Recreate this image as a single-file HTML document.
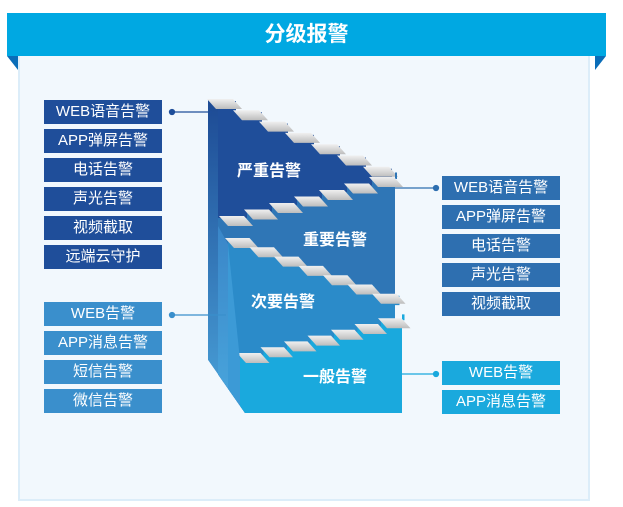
<!DOCTYPE html>
<html><head><meta charset="utf-8"><style>
html,body{margin:0;padding:0;background:#fff;}
body{width:623px;height:507px;position:relative;overflow:hidden;font-family:"Liberation Sans","Noto Sans CJK SC",sans-serif;}
.hdr{position:absolute;left:7px;top:13px;width:599px;height:43px;background:#00a8e2;color:#fff;font-size:21px;font-weight:bold;text-align:center;line-height:43px;}
.panel{position:absolute;left:18px;top:56px;width:568px;height:443px;background:#f2f8fd;border:2px solid #dcedf9;border-top:none;}
.b{position:absolute;width:118px;height:24px;color:#fff;font-size:15px;text-align:center;line-height:24px;}
.d{background:#1f4e9a}.m{background:#3a8fcc}.r{background:#2e6fb0}.g{background:#1aa9dd}
svg{position:absolute;left:0;top:0;}
</style></head><body>
<div class="panel"></div>
<div class="hdr">分级报警</div>
<svg width="623" height="507" id="s">
<polygon points="7,56 18,56 18,70" fill="#0a6db8"/>
<polygon points="606,56 595,56 595,70" fill="#0a6db8"/>
<defs>
<clipPath id="cp"><polygon points="200,90 420,90 420,413 245,413 208,360 200,360"/></clipPath>
<linearGradient id="side" x1="0" y1="0" x2="0" y2="1"><stop offset="0" stop-color="#1d4a94"/><stop offset="1" stop-color="#4aa3da"/></linearGradient>
<linearGradient id="side2" x1="0" y1="0" x2="0" y2="1"><stop offset="0" stop-color="#3a86c8"/><stop offset="1" stop-color="#4aa8de"/></linearGradient>
<linearGradient id="tr" x1="0" y1="0" x2="0" y2="1"><stop offset="0" stop-color="#f0f0f0"/><stop offset="1" stop-color="#bdbdbd"/></linearGradient>
</defs>
<g clip-path="url(#cp)">
<polygon points="208,100 218,106 245,413 208,360" fill="url(#side)"/>
<g id="st"></g>
<polygon points="218,226 228,244 228,420 218,420" fill="url(#side2)"/>
<polygon points="228,244 240,360 240,420 228,420" fill="#3c9ad6"/>
</g>
<g stroke="#1f4e9a" stroke-width="1.3" fill="#1f4e9a"><line x1="172" y1="112" x2="212" y2="112"/><circle cx="172" cy="112" r="2.5"/></g>
<g stroke="#3a8fcc" stroke-width="1.3" fill="#3a8fcc"><line x1="172" y1="315" x2="226" y2="315"/><circle cx="172" cy="315" r="2.5"/></g>
<g stroke="#2e6fb0" stroke-width="1.3" fill="#2e6fb0"><line x1="395" y1="188" x2="436" y2="188"/><circle cx="436" cy="188" r="2.5"/></g>
<g stroke="#1aa9dd" stroke-width="1.3" fill="#1aa9dd"><line x1="402" y1="374" x2="436" y2="374"/><circle cx="436" cy="374" r="2.5"/></g>
<g fill="#fff" font-size="16" font-weight="bold" font-family="Liberation Sans,Noto Sans CJK SC,sans-serif">
<text x="237" y="176">严重告警</text>
<text x="303" y="245">重要告警</text>
<text x="251" y="307">次要告警</text>
<text x="303" y="382">一般告警</text>
</g>
</svg>
<script>
var g=document.getElementById('st'),S='http://www.w3.org/2000/svg';
function poly(p,f){var e=document.createElementNS(S,'polygon');e.setAttribute('points',p.map(function(a){return a.join(',')}).join(' '));e.setAttribute('fill',f);g.appendChild(e);}
function stairs(x0,y0,n,dx,dy,xr,yb,xl,col){
 var pts=[[xl,y0]],x=x0,y=y0,tr=[];
 for(var i=0;i<n;i++){pts.push([x,y]);pts.push([x+dx,y]);tr.push([x,y]);x+=dx;y+=dy;pts.push([x,y]);}
 pts.push([xr,pts[pts.length-1][1]]);pts.push([xr,yb]);pts.push([xl,yb]);
 poly(pts,col);
 tr.forEach(function(t){poly([[t[0]-3,t[1]-2],[t[0]+dx-3,t[1]-2],[t[0]+dx+6,t[1]+8],[t[0]+6,t[1]+8]],'url(#tr)');});
}
stairs(210,101,7,26,11.3,395,420,218,'#1f4e9a');
stairs(222,218,7,25,-6.5,395,420,218,'#2f76b6');
stairs(228,240,7,24.5,9.3,395,420,228,'#2b8bc9');
stairs(240,355,7,23.5,-5.8,402,420,240,'#1aa9dd');
</script>
<div class="b d" style="left:44px;top:100px">WEB语音告警</div>
<div class="b d" style="left:44px;top:129px">APP弹屏告警</div>
<div class="b d" style="left:44px;top:158px">电话告警</div>
<div class="b d" style="left:44px;top:187px">声光告警</div>
<div class="b d" style="left:44px;top:216px">视频截取</div>
<div class="b d" style="left:44px;top:245px">远端云守护</div>
<div class="b m" style="left:44px;top:302px">WEB告警</div>
<div class="b m" style="left:44px;top:331px">APP消息告警</div>
<div class="b m" style="left:44px;top:360px">短信告警</div>
<div class="b m" style="left:44px;top:389px">微信告警</div>
<div class="b r" style="left:442px;top:176px">WEB语音告警</div>
<div class="b r" style="left:442px;top:205px">APP弹屏告警</div>
<div class="b r" style="left:442px;top:234px">电话告警</div>
<div class="b r" style="left:442px;top:263px">声光告警</div>
<div class="b r" style="left:442px;top:292px">视频截取</div>
<div class="b g" style="left:442px;top:361px">WEB告警</div>
<div class="b g" style="left:442px;top:390px">APP消息告警</div>
</body></html>
